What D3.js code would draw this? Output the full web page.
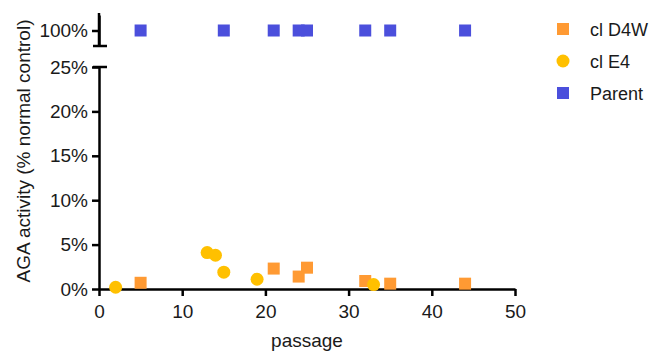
<!DOCTYPE html>
<html><head><meta charset="utf-8">
<script src="https://cdn.jsdelivr.net/npm/d3@7"></script>
<style>body{margin:0;background:#fff}svg{display:block}text{font-family:"Liberation Sans",Arial,sans-serif}</style>
</head><body><svg id="c" width="654" height="352"></svg>
<script>
const d4wX = [5, 21, 24, 25, 32, 35, 44];
const d4wY = [0.7, 2.3, 1.4, 2.4, 0.9, 0.6, 0.6];
const e4X = [2, 13, 14, 15, 19, 33];
const e4Y = [0.2, 4.1, 3.8, 1.9, 1.1, 0.5];
const parentX = [5, 15, 21, 24, 25, 32, 35, 44];
const parentY = [100, 100, 100, 100, 100, 100, 100, 100];
const xTicks = [0, 10, 20, 30, 40, 50];
const yTicksLow = [0, 5, 10, 15, 20, 25];
const yTicksHigh = [100];
const seriesNames = ["cl D4W", "cl E4", "Parent"];
const colors = {"cl D4W": "#FF9A33", "cl E4": "#FFC000", "Parent": "#4B4FDC"};

const svg = d3.select("#c");
const x = d3.scaleLinear().domain([0, 50]).range([99, 515]);
const yLow = d3.scaleLinear().domain([0, 25]).range([289, 67]);
const yHigh = d3.scaleLinear().domain([98, 102]).range([46, 15]);
const fs = "19px";

const gx = svg.append("g").attr("transform", "translate(0,289)")
  .call(d3.axisBottom(x).tickValues(xTicks).tickSize(7).tickSizeOuter(0).tickPadding(9));
const gyl = svg.append("g").attr("transform", "translate(99,0)")
  .call(d3.axisLeft(yLow).tickValues(yTicksLow).tickFormat(d => d + "%").tickSize(7).tickSizeOuter(0).tickPadding(4));
const gyh = svg.append("g").attr("transform", "translate(99,0)")
  .call(d3.axisLeft(yHigh).tickValues(yTicksHigh).tickFormat(d => d + "%").tickSize(7).tickSizeOuter(0).tickPadding(4));
[gx, gyl, gyh].forEach(g => {
  g.selectAll("path.domain").attr("stroke", "#000").attr("stroke-width", 2.5);
  g.selectAll(".tick line").attr("stroke", "#000").attr("stroke-width", 2.5);
  g.selectAll("text").attr("fill", "#1a1a1a").style("font-size", fs).style("font-family", "Liberation Sans, Arial, sans-serif");
});
// break caps
svg.append("line").attr("x1", 93).attr("x2", 107).attr("y1", yLow.range()[1]).attr("y2", yLow.range()[1]).attr("stroke", "#000").attr("stroke-width", 2.5);
svg.append("line").attr("x1", 99).attr("x2", 99).attr("y1", 13).attr("y2", 46).attr("stroke", "#000").attr("stroke-width", 2.5);
svg.append("line").attr("x1", 93).attr("x2", 107).attr("y1", 46).attr("y2", 46).attr("stroke", "#000").attr("stroke-width", 2.5);

svg.append("text").attr("x", 307).attr("y", 347).attr("text-anchor", "middle").style("font-size", fs).attr("fill", "#1a1a1a").text("passage");
svg.append("text").attr("transform", "translate(30,151) rotate(-90)").attr("text-anchor", "middle").style("font-size", fs).attr("fill", "#1a1a1a").text("AGA activity (% normal control)");

const sq = 12;
svg.append("g").selectAll("rect").data(parentX.map((v, i) => [v, parentY[i]])).join("rect")
  .attr("x", d => x(d[0]) - sq / 2).attr("y", d => yHigh(d[1]) - sq / 2).attr("width", sq).attr("height", sq).attr("fill", colors["Parent"]);
svg.append("g").selectAll("rect").data(d4wX.map((v, i) => [v, d4wY[i]])).join("rect")
  .attr("x", d => x(d[0]) - sq / 2).attr("y", d => yLow(d[1]) - sq / 2).attr("width", sq).attr("height", sq).attr("fill", colors["cl D4W"]);
svg.append("g").selectAll("circle").data(e4X.map((v, i) => [v, e4Y[i]])).join("circle")
  .attr("cx", d => x(d[0])).attr("cy", d => yLow(d[1])).attr("r", 6.5).attr("fill", colors["cl E4"]);

const leg = svg.append("g");
seriesNames.forEach((n, i) => {
  const cy = 29 + i * 32;
  if (n === "cl E4") leg.append("circle").attr("cx", 563).attr("cy", cy).attr("r", 6.5).attr("fill", colors[n]);
  else leg.append("rect").attr("x", 557).attr("y", cy - 6).attr("width", 12).attr("height", 12).attr("fill", colors[n]);
  leg.append("text").attr("x", 590).attr("y", cy + 6.5).style("font-size", "18px").attr("fill", "#1a1a1a").text(n);
});
</script></body></html>
